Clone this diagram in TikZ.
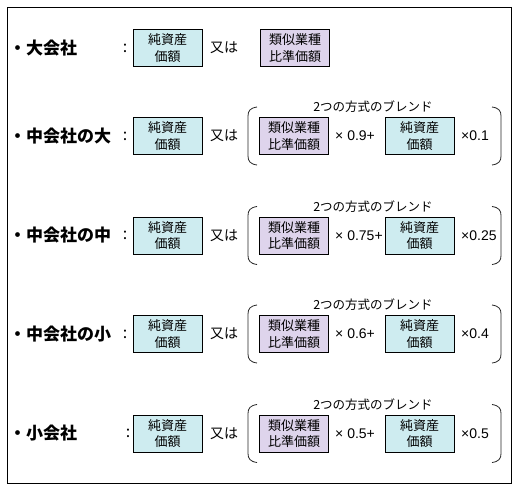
\documentclass[tikz,border=0pt]{standalone}
\usepackage{fontspec}
\setmainfont{Noto Sans CJK JP}
\newfontfamily\latinf{Liberation Sans}
\definecolor{cyanf}{RGB}{206,236,240}
\definecolor{purplef}{RGB}{222,212,236}
\begin{document}
\begin{tikzpicture}[x=1pt,y=-1pt,
  box/.style={draw=black, line width=0.9pt, minimum width=69pt, minimum height=37pt,
    inner sep=0pt, align=center, font=\fontsize{13}{16.5}\selectfont},
  nbox/.style={box, fill=cyanf},
  sbox/.style={box, fill=purplef},
  lbl/.style={anchor=west, inner sep=0pt, font=\fontsize{17}{19}\selectfont\bfseries},
  colon/.style={inner sep=0pt, font=\fontsize{16}{18}\selectfont},
  orlbl/.style={inner sep=0pt, font=\fontsize{14}{16}\selectfont},
  mult/.style={inner sep=0pt, font=\latinf\fontsize{14}{16}\selectfont},
  ttl/.style={inner sep=0pt, font=\fontsize{12.5}{14}\selectfont},
  brk/.style={draw=black!85, line width=0.8pt}
]
\useasboundingbox (0,0) rectangle (518,492);
\draw[line width=1pt] (7,8) rectangle (511,483);

% Row 1
\node[lbl] (l1) at (9,48) {・大会社};
\node[colon] (c1) at (125,48) {:};
\node[nbox] (n1) at (167.5,48) {純資産\\価額};
\node[orlbl] (o1) at (224,48) {又は};
\node[sbox] (s1) at (295,48) {類似業種\\比準価額};

% Rows 2-5
\foreach \y/\lab/\cx/\a/\b/\nm in {136/・中会社の大/125/0.9+/0.1/r2,
                                  235.5/・中会社の中/125/0.75+/0.25/r3,
                                  334/・中会社の小/125/0.6+/0.4/r4,
                                  433.5/・小会社/128/0.5+/0.5/r5}{
  \node[lbl] (l\nm) at (9,\y) {\lab};
  \node[colon] (c\nm) at (\cx,\y) {:};
  \node[nbox] (n\nm) at (167.5,\y) {純資産\\価額};
  \node[orlbl] (o\nm) at (224,\y) {又は};
  \node[ttl] (t\nm) at (373,\y-29) {2つの方式のブレンド};
  \node[sbox] (s\nm) at (294,\y) {類似業種\\比準価額};
  \node[mult, anchor=west] (m\nm) at (335,\y) {× \a};
  \node[nbox] (p\nm) at (419.5,\y) {純資産\\価額};
  \node[mult, anchor=west] (q\nm) at (461,\y) {×\b};
  \draw[brk] (257,\y-29) .. controls (250,\y-28) and (248,\y-25) .. (248,\y-20)
     -- (248,\y+20) .. controls (248,\y+25) and (250,\y+28) .. (257,\y+29);
  \draw[brk] (492,\y-29) .. controls (499,\y-28) and (501,\y-25) .. (501,\y-20)
     -- (501,\y+20) .. controls (501,\y+25) and (499,\y+28) .. (492,\y+29);
}
\end{tikzpicture}
\end{document}
